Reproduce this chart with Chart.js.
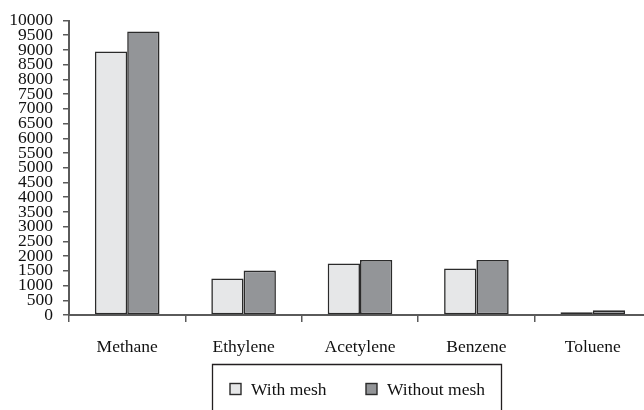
<!DOCTYPE html>
<html>
<head>
<meta charset="utf-8">
<script src="https://cdn.jsdelivr.net/npm/chart.js@4.4.0/dist/chart.umd.min.js"></script>
<style>
  html, body { margin: 0; padding: 0; overflow: hidden; background: #fff; }
  #wrap { position: relative; width: 651px; height: 410px; }
</style>
</head>
<body>
<div id="wrap"><canvas id="c"></canvas></div>
<script>
const categories = ["Methane", "Ethylene", "Acetylene", "Benzene", "Toluene"];
const withMesh = [8950, 1240, 1750, 1580, 90];
const withoutMesh = [9630, 1510, 1870, 1870, 160];
const seriesLabels = ["With mesh", "Without mesh"];
const yMin = 0, yMax = 10000, yStep = 500;

const FONT = "'Liberation Serif', 'Times New Roman', serif";
const TEXT = "#111111";
const AXIS = "#5a5a5a";
const EDGE = "#2b2b2b";
const FILLS = ["#e6e7e8", "#939598"];

const legendPlugin = {
  id: 'boxLegend',
  afterDraw(chart) {
    const ctx = chart.ctx;
    ctx.save();
    ctx.strokeStyle = "#231f20";
    ctx.lineWidth = 1.3;
    ctx.beginPath();
    ctx.moveTo(212.5, 420);
    ctx.lineTo(212.5, 364.5);
    ctx.lineTo(501.5, 364.5);
    ctx.lineTo(501.5, 420);
    ctx.stroke();
    const xs = [230, 366];
    const cy = 389;
    ctx.font = "17.5px " + FONT;
    ctx.textBaseline = "middle";
    ctx.textAlign = "left";
    chart.data.datasets.forEach((ds, i) => {
      ctx.fillStyle = ds.backgroundColor;
      ctx.fillRect(xs[i], cy - 5.5, 11, 11);
      ctx.strokeStyle = EDGE;
      ctx.lineWidth = 1.4;
      ctx.strokeRect(xs[i], cy - 5.5, 11, 11);
      ctx.fillStyle = TEXT;
      ctx.fillText(ds.label, xs[i] + 21, cy + 1);
    });
    ctx.restore();
  }
};

new Chart(document.getElementById('c'), {
  type: 'bar',
  data: {
    labels: categories,
    datasets: [
      { label: seriesLabels[0], data: withMesh, backgroundColor: FILLS[0], borderColor: EDGE, borderWidth: 1.6, borderSkipped: false },
      { label: seriesLabels[1], data: withoutMesh, backgroundColor: FILLS[1], borderColor: EDGE, borderWidth: 1.6, borderSkipped: false }
    ]
  },
  options: {
    responsive: true,
    maintainAspectRatio: false,
    animation: false,
    datasets: { bar: { categoryPercentage: 0.555, barPercentage: 1.0 } },
    layout: { padding: { top: 19, right: 0, left: 0, bottom: 0 } },
    plugins: { legend: { display: false }, tooltip: { enabled: false } },
    scales: {
      x: {
        afterFit: s => { s.height = 95; },
        grid: { display: true, drawOnChartArea: false, offset: true, tickLength: 7, color: AXIS, lineWidth: 1.5 },
        border: { display: true, color: AXIS, width: 2 },
        ticks: { font: { family: FONT, size: 17.5 }, color: TEXT, padding: 15, maxRotation: 0 }
      },
      y: {
        min: yMin, max: yMax,
        afterFit: s => { s.width = 69; },
        grid: { display: true, drawOnChartArea: false, tickLength: 6, color: AXIS, lineWidth: 1.5 },
        border: { display: true, color: AXIS, width: 2 },
        ticks: { stepSize: yStep, autoSkip: false, font: { family: FONT, size: 17.5 }, color: TEXT, padding: 10,
                 callback: v => String(v) }
      }
    }
  },
  plugins: [legendPlugin]
});
</script>
</body>
</html>
